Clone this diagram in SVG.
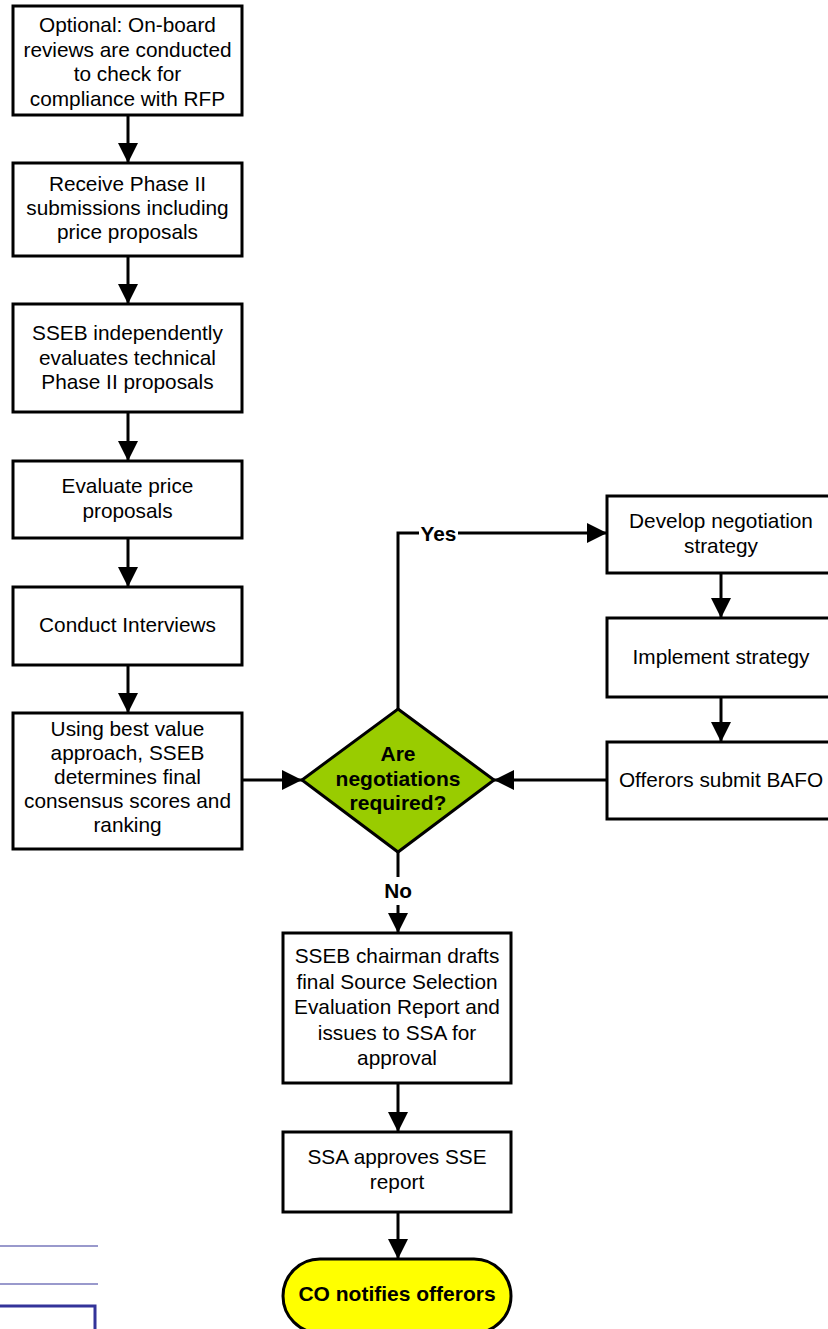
<svg xmlns="http://www.w3.org/2000/svg" width="828" height="1329" viewBox="0 0 828 1329">
<style>
.box{fill:#fff;stroke:#000;stroke-width:3}
.t{font-family:"Liberation Sans",Arial,sans-serif;font-size:20.8px;fill:#000;text-anchor:middle}
.b{font-weight:bold;font-size:21px}
.c{fill:none;stroke:#000;stroke-width:3}
.lbl{font-family:"Liberation Sans",Arial,sans-serif;font-size:20.8px;font-weight:bold;fill:#000;text-anchor:middle}
</style>
<defs>
<marker id="ah" markerUnits="userSpaceOnUse" markerWidth="20" markerHeight="20" refX="20" refY="10" orient="auto" viewBox="0 0 20 20">
<path d="M0,0 L20,10 L0,20 z" fill="#000"/>
</marker>
</defs>
<rect width="828" height="1329" fill="#fff"/>

<g id="connectors">
<line class="c" x1="128" y1="115" x2="128" y2="163" marker-end="url(#ah)"/>
<line class="c" x1="128" y1="256" x2="128" y2="304" marker-end="url(#ah)"/>
<line class="c" x1="128" y1="412" x2="128" y2="461" marker-end="url(#ah)"/>
<line class="c" x1="128" y1="538" x2="128" y2="587" marker-end="url(#ah)"/>
<line class="c" x1="128" y1="665" x2="128" y2="713" marker-end="url(#ah)"/>
<line class="c" x1="242" y1="780" x2="302" y2="780" marker-end="url(#ah)"/>
<polyline class="c" points="398,709 398,533 607,533" marker-end="url(#ah)"/>
<rect x="419" y="522" width="39" height="22" fill="#fff"/>
<text class="lbl" x="438.5" y="540.5">Yes</text>
<line class="c" x1="398" y1="852" x2="398" y2="933" marker-end="url(#ah)"/>
<rect x="381" y="877" width="34" height="28" fill="#fff"/>
<text class="lbl" x="398" y="898">No</text>
<line class="c" x1="721" y1="573" x2="721" y2="618" marker-end="url(#ah)"/>
<line class="c" x1="721" y1="697" x2="721" y2="742" marker-end="url(#ah)"/>
<line class="c" x1="607" y1="780" x2="494" y2="780" marker-end="url(#ah)"/>
<line class="c" x1="398" y1="1083" x2="398" y2="1132" marker-end="url(#ah)"/>
<line class="c" x1="398" y1="1212" x2="398" y2="1259" marker-end="url(#ah)"/>
</g>

<g id="n1">
<rect class="box" x="13" y="6" width="229" height="109"/>
<text class="t" x="127.5" y="32">Optional: On-board</text>
<text class="t" x="127.5" y="57">reviews are conducted</text>
<text class="t" x="127.5" y="81">to check for</text>
<text class="t" x="127.5" y="106">compliance with RFP</text>
</g>
<g id="n2">
<rect class="box" x="13" y="163" width="229" height="93"/>
<text class="t" x="127.5" y="191">Receive Phase II</text>
<text class="t" x="127.5" y="215">submissions including</text>
<text class="t" x="127.5" y="239">price proposals</text>
</g>
<g id="n3">
<rect class="box" x="13" y="304" width="229" height="108"/>
<text class="t" x="127.5" y="340">SSEB independently</text>
<text class="t" x="127.5" y="365">evaluates technical</text>
<text class="t" x="127.5" y="389">Phase II proposals</text>
</g>
<g id="n4">
<rect class="box" x="13" y="461" width="229" height="77"/>
<text class="t" x="127.5" y="493">Evaluate price</text>
<text class="t" x="127.5" y="518">proposals</text>
</g>
<g id="n5">
<rect class="box" x="13" y="587" width="229" height="78"/>
<text class="t" x="127.5" y="632">Conduct Interviews</text>
</g>
<g id="n6">
<rect class="box" x="13" y="713" width="229" height="136"/>
<text class="t" x="127.5" y="736">Using best value</text>
<text class="t" x="127.5" y="760">approach, SSEB</text>
<text class="t" x="127.5" y="784">determines final</text>
<text class="t" x="127.5" y="808">consensus scores and</text>
<text class="t" x="127.5" y="832">ranking</text>
</g>
<g id="decision">
<polygon points="398,709 494,780 398,852 302,780" fill="#99CC00" stroke="#000" stroke-width="3"/>
<text class="t b" x="398" y="761">Are</text>
<text class="t b" x="398" y="786">negotiations</text>
<text class="t b" x="398" y="810">required?</text>
</g>
<g id="r1">
<rect class="box" x="607" y="496" width="229" height="77"/>
<text class="t" x="721" y="528">Develop negotiation</text>
<text class="t" x="721" y="553">strategy</text>
</g>
<g id="r2">
<rect class="box" x="607" y="618" width="229" height="79"/>
<text class="t" x="721" y="664">Implement strategy</text>
</g>
<g id="r3">
<rect class="box" x="607" y="742" width="229" height="77"/>
<text class="t" x="721" y="787">Offerors submit BAFO</text>
</g>
<g id="b1">
<rect class="box" x="283" y="933" width="228" height="150"/>
<text class="t" x="397" y="963">SSEB chairman drafts</text>
<text class="t" x="397" y="988.5">final Source Selection</text>
<text class="t" x="397" y="1014">Evaluation Report and</text>
<text class="t" x="397" y="1039.5">issues to SSA for</text>
<text class="t" x="397" y="1065">approval</text>
</g>
<g id="b2">
<rect class="box" x="283" y="1132" width="228" height="80"/>
<text class="t" x="397" y="1164">SSA approves SSE</text>
<text class="t" x="397" y="1189">report</text>
</g>
<g id="terminal">
<rect x="283" y="1259" width="228" height="74" rx="37" ry="37" fill="#FFFF00" stroke="#000" stroke-width="3"/>
<text class="t b" x="397" y="1301">CO notifies offerors</text>
</g>
<g id="fragments">
<line x1="0" y1="1246" x2="98" y2="1246" stroke="#9999CC" stroke-width="2"/>
<line x1="0" y1="1284" x2="98" y2="1284" stroke="#9999CC" stroke-width="2"/>
<path d="M0,1306 H95 V1329" fill="none" stroke="#333399" stroke-width="3"/>
</g>
</svg>
